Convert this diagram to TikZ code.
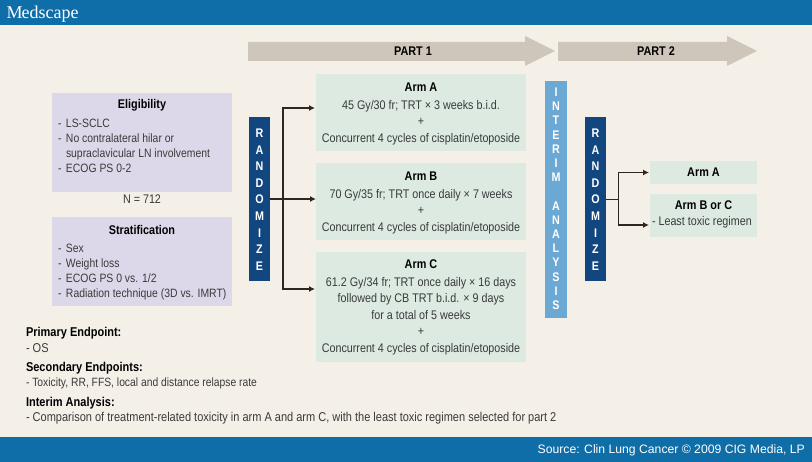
\documentclass[tikz,border=0pt]{standalone}
\usepackage{fontspec}
\setmainfont[FakeStretch=0.86]{Liberation Sans}
\newfontfamily\footfont{Liberation Sans}
\newfontfamily\logofont{Liberation Serif}
\usetikzlibrary{arrows.meta,shapes.arrows}
\definecolor{bandblue}{HTML}{0F6EA8}
\definecolor{paper}{HTML}{F4F0E8}
\definecolor{lav}{HTML}{DCD8E9}
\definecolor{mint}{HTML}{DCEAE2}
\definecolor{tan}{HTML}{CEC6BA}
\definecolor{navy}{HTML}{12467F}
\definecolor{sky}{HTML}{6BA8D3}
\definecolor{body}{HTML}{3A3A3A}
\definecolor{conn}{HTML}{2E2620}
\tikzset{
  x=1pt,y=-1pt,
  box/.style={inner sep=0pt,outer sep=0pt,anchor=north west},
  txt/.style={inner sep=0pt,outer sep=0pt,text=body,font=\fontsize{12.5}{15}\selectfont},
  ctxt/.style={txt,align=center,font=\fontsize{12.5}{16.4}\selectfont},
  ltxt/.style={txt,align=left,anchor=north west,font=\fontsize{12.1}{15}\selectfont},
  note/.style={txt,anchor=west,font=\fontsize{12.8}{15}\selectfont},
  head/.style={inner sep=0pt,outer sep=0pt,text=black,font=\fontsize{12.6}{15}\selectfont\bfseries},
  lhead/.style={head,anchor=west,font=\fontsize{12.8}{15}\selectfont\bfseries},
  vert/.style={inner sep=0pt,outer sep=0pt,anchor=north,align=center,text=white,font=\bfseries\fontsize{12.5}{16.6}\selectfont},
  link/.style={draw=conn,line width=1.3pt},
  tip/.style={link,-{Latex[length=6pt,width=6pt]}},
}
\newcommand{\rectnode}[6]{\node[box,fill=#5,minimum width=#3pt,minimum height=#4pt] (#6) at (#1,#2) {};}
\newcommand{\dashitem}[1]{\makebox[8pt][l]{-}#1}
\begin{document}
\begin{tikzpicture}
\useasboundingbox (0,0) rectangle (812,462);
\fill[paper] (0,0) rectangle (812,462);
\rectnode{0}{0}{812}{25}{bandblue}{topband}
\rectnode{0}{437}{812}{25}{bandblue}{botband}
\node[inner sep=0pt,anchor=base west,text=white,font=\logofont\fontsize{18}{20}\selectfont] (logo) at (6.5,18.5) {M\kern-1pt edscape};
\node[inner sep=0pt,anchor=base east,text=white,font=\footfont\fontsize{12.2}{13}\selectfont] (src) at (805,453.5) {Source: Clin Lung Cancer © 2009 CIG Media, LP};
% part arrows
\fill[tan] (248,42) -- (525,42) -- (525,36) -- (555,51) -- (525,66) -- (525,61) -- (248,61) -- cycle;
\fill[tan] (558,42) -- (727,42) -- (727,36) -- (757,51) -- (727,66) -- (727,61) -- (558,61) -- cycle;
\node[head] (p1) at (413,51) {PART 1};
\node[head] (p2) at (656,51) {PART 2};
% left boxes
\rectnode{52}{93}{180}{99}{lav}{elig}
\rectnode{52}{217}{180}{89}{lav}{strat}
\node[head] (eligt) at (142,105) {Eligibility};
\node[ltxt] (eligl) at (58,119) {\dashitem{LS-SCLC}\\\dashitem{No contralateral hilar or}\\\makebox[8pt]{}supraclavicular LN involvement\\\dashitem{ECOG PS 0-2}};
\node[txt] (n) at (142,199) {N = 712};
\node[head] (stratt) at (142,229.5) {Stratification};
\node[ltxt] (stratl) at (58,244) {\dashitem{Sex}\\\dashitem{Weight loss}\\\dashitem{ECOG PS 0 vs. 1/2}\\\dashitem{Radiation technique (3D vs. IMRT)}};
% vertical bars
\node[box,fill=navy,minimum width=21pt,minimum height=164pt] (r1) at (249,117) {};
\node[box,fill=sky,minimum width=22pt,minimum height=237pt] (ia) at (545,81) {};
\node[box,fill=navy,minimum width=21pt,minimum height=164pt] (r2) at (585,117) {};
\node[vert] (r1t) at (259.5,129) {R\\A\\N\\D\\O\\M\\I\\Z\\E};
\node[vert] (r2t) at (595.5,129) {R\\A\\N\\D\\O\\M\\I\\Z\\E};
\node[vert,font=\bfseries\fontsize{12.5}{14.2}\selectfont] (iat) at (556,88) {I\\N\\T\\E\\R\\I\\M\\[14.2pt]A\\N\\A\\L\\Y\\S\\I\\S};
% arms
\rectnode{316}{74}{210}{77}{mint}{armA}
\rectnode{316}{163}{210}{77}{mint}{armB}
\rectnode{316}{252}{210}{110}{mint}{armC}
\rectnode{650}{161}{107}{23}{mint}{arm2A}
\rectnode{650}{194}{107}{43}{mint}{arm2B}
\node[head] (aT) at (421,87) {Arm A};
\node[ctxt,anchor=north] (aL) at (421,100.5) {45 Gy/30 fr; TRT × 3 weeks b.i.d.\\+\\Concurrent 4 cycles of cisplatin/etoposide};
\node[head] (bT) at (421,176) {Arm B};
\node[ctxt,anchor=north] (bL) at (421,189.5) {70 Gy/35 fr; TRT once daily × 7 weeks\\+\\Concurrent 4 cycles of cisplatin/etoposide};
\node[head] (cT) at (421,264) {Arm C};
\node[ctxt,anchor=north] (cL) at (421,277.5) {61.2 Gy/34 fr; TRT once daily × 16 days\\followed by CB TRT b.i.d. × 9 days\\for a total of 5 weeks\\+\\Concurrent 4 cycles of cisplatin/etoposide};
\node[head] (a2T) at (703.5,172) {Arm A};
\node[head] (b2T) at (703.5,205) {Arm B or C};
\node[txt,anchor=west] (b2L) at (652,222) {- Least toxic regimen};
% connectors
\coordinate (j1) at (283,199);
\coordinate (j2) at (618.5,199.5);
\draw[link] (r1.east |- j1) -- (j1);
\draw[tip] (j1) |- ([xshift=-1pt,yshift=4.5pt]armA.west);
\draw[tip] (j1) -- (armB.west |- j1);
\draw[tip] (j1) |- ([xshift=-1pt,yshift=18pt]armC.west);
\draw[link] (r2.east |- j2) -- (j2);
\draw[tip] (j2) |- ([xshift=-1pt]arm2A.west);
\draw[tip] (j2) |- ([xshift=-1pt,yshift=-9.5pt]arm2B.west);
% bottom notes
\node[lhead] (e1) at (26,333) {Primary Endpoint:};
\node[note] (e1a) at (26,348) {- OS};
\node[lhead] (e2) at (26,368) {Secondary Endpoints:};
\node[note,font=\fontsize{12}{15}\selectfont] (e2a) at (26,383) {- Toxicity, RR, FFS, local and distance relapse rate};
\node[lhead] (e3) at (26,403) {Interim Analysis:};
\node[note] (e3a) at (26,418) {- Comparison of treatment-related toxicity in arm A and arm C, with the least toxic regimen selected for part 2};
\end{tikzpicture}
\end{document}
